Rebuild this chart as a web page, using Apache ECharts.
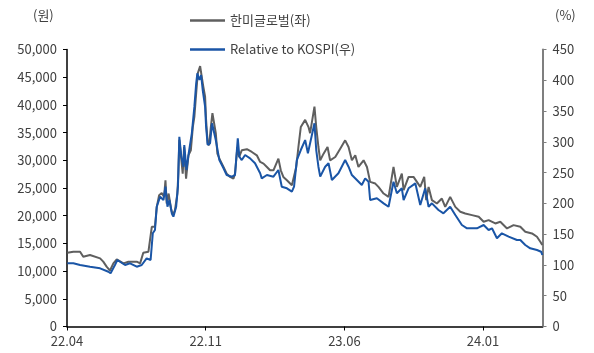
<!DOCTYPE html>
<html><head><meta charset="utf-8">
<script src="https://cdn.jsdelivr.net/npm/echarts@6/dist/echarts.min.js"></script>
<style>html,body{margin:0;padding:0;background:#fff}#c{width:594px;height:353px}</style>
</head><body><div id="c"></div>
<script>
// x positions are months elapsed since 2022-04
const priceX = [0.02,0.32,0.66,0.82,1.16,1.67,1.83,2.0,2.17,2.34,2.51,2.85,2.93,3.1,3.52,3.69,3.85,4.11,4.19,4.28,4.44,4.53,4.65,4.78,4.9,4.97,5.03,5.13,5.25,5.34,5.45,5.57,5.62,5.67,5.74,5.84,5.91,6.01,6.13,6.25,6.35,6.43,6.52,6.6,6.72,6.8,6.88,6.97,7.02,7.1,7.17,7.26,7.34,7.42,7.51,7.59,7.73,7.9,8.06,8.23,8.4,8.48,8.6,8.69,8.82,9.08,9.33,9.42,9.58,9.75,9.92,10.09,10.25,10.42,10.67,10.79,10.92,11.1,11.35,11.43,11.57,11.68,11.8,12.02,12.19,12.27,12.49,12.58,12.69,12.78,12.95,13.15,13.28,13.54,13.79,14.04,14.21,14.38,14.55,14.71,14.97,15.14,15.3,15.56,15.72,15.98,16.23,16.48,16.65,16.9,16.99,17.24,17.49,17.83,18.03,18.13,18.25,18.42,18.67,18.92,19.09,19.34,19.6,19.85,20.1,20.44,20.78,21.03,21.28,21.62,21.87,22.21,22.54,22.88,23.13,23.47,23.72,23.89,23.99];
const priceY = [13300,13500,13500,12600,12900,12300,11700,10800,10100,11400,12100,11400,11100,11700,11700,11400,13300,13500,13200,18000,18000,21600,23700,24100,23400,26400,22200,24000,21300,20100,21000,24000,27600,33700,31200,27600,32400,26700,30900,31800,36000,37900,42100,45700,47000,45100,43300,41500,37300,33100,32700,36000,38500,38500,34900,31200,30000,28800,27600,27000,26700,27600,32400,30600,31800,32000,31500,31800,30900,29700,29400,28800,28200,28200,30300,28200,27000,26400,25500,25800,28800,32400,36000,37300,36000,34900,39700,36000,32400,30000,31200,32400,30000,30600,32100,33600,32400,30000,30900,28800,30000,28800,26100,25800,25200,24000,23400,28800,25200,27600,24600,27000,27000,25200,27000,22800,25200,22800,22200,23100,21600,23400,21600,20700,20400,20100,19800,18900,19200,18600,18900,17700,18300,18000,17100,16800,16200,15300,14700];
const relX = [0.02,0.32,0.66,1.16,1.67,2.09,2.2,2.42,2.54,2.93,3.18,3.52,3.77,4.02,4.22,4.33,4.44,4.53,4.7,4.87,4.97,5.07,5.17,5.29,5.37,5.51,5.6,5.67,5.77,5.88,5.92,6.03,6.13,6.3,6.43,6.52,6.58,6.68,6.77,6.85,6.97,7.02,7.1,7.22,7.32,7.39,7.51,7.69,7.9,8.06,8.32,8.48,8.62,8.7,8.82,8.99,9.24,9.49,9.75,9.83,10.09,10.42,10.67,10.84,11.1,11.35,11.46,11.6,11.8,12.02,12.16,12.49,12.58,12.69,12.78,13.03,13.2,13.37,13.7,14.04,14.21,14.38,14.63,14.88,15.05,15.22,15.3,15.64,15.98,16.23,16.48,16.65,16.9,16.99,17.24,17.58,17.83,18.08,18.25,18.42,18.75,19.0,19.34,19.6,19.93,20.19,20.69,21.03,21.28,21.45,21.7,21.95,22.29,22.71,22.88,23.13,23.38,23.72,23.93,23.99];
const relY = [102.7,102.7,99.9,97.1,94.5,89.0,86.4,99.9,108.0,99.9,102.7,97.1,99.9,110.8,108.0,151.4,156.8,194.6,210.9,205.5,227.1,194.6,205.5,183.9,178.4,194.6,227.1,308.3,275.8,259.6,294.8,254.2,278.6,313.8,357.1,395.1,411.3,400.4,408.6,384.2,357.1,324.6,294.8,297.6,330.1,332.7,302.9,270.4,257.0,246.1,243.4,246.1,305.7,275.8,270.4,278.6,273.2,265.1,248.9,240.7,246.1,243.4,254.2,227.1,224.5,219.0,227.1,270.4,286.7,302.9,281.4,330.1,286.7,259.6,243.4,259.6,265.1,238.0,248.9,270.4,259.6,246.1,238.0,229.9,240.7,235.2,205.5,208.3,200.1,194.6,235.2,216.4,224.5,205.5,224.5,232.6,197.4,224.5,194.6,200.1,189.3,183.9,194.6,181.1,164.9,159.5,159.5,164.9,156.8,159.5,143.3,151.4,145.9,140.5,140.5,132.4,127.0,124.3,121.5,116.2];
const xTickMonths = [0, 7, 14, 21];
const seriesNames = ['한미글로벌(좌)', 'Relative to KOSPI(우)'];
const leftUnit = '(원)', rightUnit = '(%)';

const font = '"Noto Sans CJK KR","Noto Sans",sans-serif';
const txt = '#404040';
function monthLabel(m) {
  const t = 3 + m;
  const y = 22 + Math.floor(t / 12);
  const mo = (t % 12) + 1;
  return y + '.' + (mo < 10 ? '0' + mo : mo);
}
const chart = echarts.init(document.getElementById('c'), null, {renderer: 'canvas'});
chart.setOption({
  animation: false,
  backgroundColor: '#fff',
  textStyle: {fontFamily: font},
  grid: {left: 67, right: 51.5, top: 49.5, bottom: 26.5},
  graphic: [
    {type: 'text', left: 33, top: 9, style: {text: leftUnit, font: '13px ' + font, fill: txt}},
    {type: 'text', left: 555, top: 9, style: {text: rightUnit, font: '13px ' + font, fill: txt}}
  ],
  legend: [
    {data: [seriesNames[0]], left: 185, top: 9, icon: 'rect', itemWidth: 35, itemHeight: 2.5,
     textStyle: {fontSize: 13, color: txt, fontFamily: font}},
    {data: [seriesNames[1]], left: 185, top: 38, icon: 'rect', itemWidth: 35, itemHeight: 2.5,
     textStyle: {fontSize: 13, color: txt, fontFamily: font}}
  ],
  xAxis: {
    type: 'value', min: 0, max: 24, interval: 7,
    splitLine: {show: false},
    axisLine: {lineStyle: {color: '#000', width: 1.5}},
    axisTick: {show: true, length: 4, lineStyle: {color: '#000'}},
    axisLabel: {color: txt, fontSize: 13, margin: 8, showMaxLabel: false,
      formatter: v => xTickMonths.includes(v) ? monthLabel(v) : ''}
  },
  yAxis: [
    {type: 'value', min: 0, max: 50000, interval: 5000, position: 'left',
     splitLine: {show: false},
     axisLine: {show: true, lineStyle: {color: '#000', width: 1.5}},
     axisTick: {show: true, length: 4, lineStyle: {color: '#000'}},
     axisLabel: {color: txt, fontSize: 13, margin: 10,
       formatter: v => v.toLocaleString('en-US')}},
    {type: 'value', min: 0, max: 450, interval: 50, position: 'right',
     splitLine: {show: false},
     axisLine: {show: true, lineStyle: {color: '#7f7f7f', width: 2}},
     axisTick: {show: true, length: 4, lineStyle: {color: '#7f7f7f'}},
     axisLabel: {color: txt, fontSize: 13, margin: 10}}
  ],
  series: [
    {name: seriesNames[0], type: 'line', yAxisIndex: 0, showSymbol: false, symbol: 'none',
     color: '#5f5f5f', lineStyle: {width: 2, color: '#5f5f5f'},
     data: priceX.map((x, i) => [x, priceY[i]])},
    {name: seriesNames[1], type: 'line', yAxisIndex: 1, showSymbol: false, symbol: 'none',
     color: '#1a55a6', lineStyle: {width: 2, color: '#1a55a6'},
     data: relX.map((x, i) => [x, relY[i]])}
  ]
});
</script></body></html>
